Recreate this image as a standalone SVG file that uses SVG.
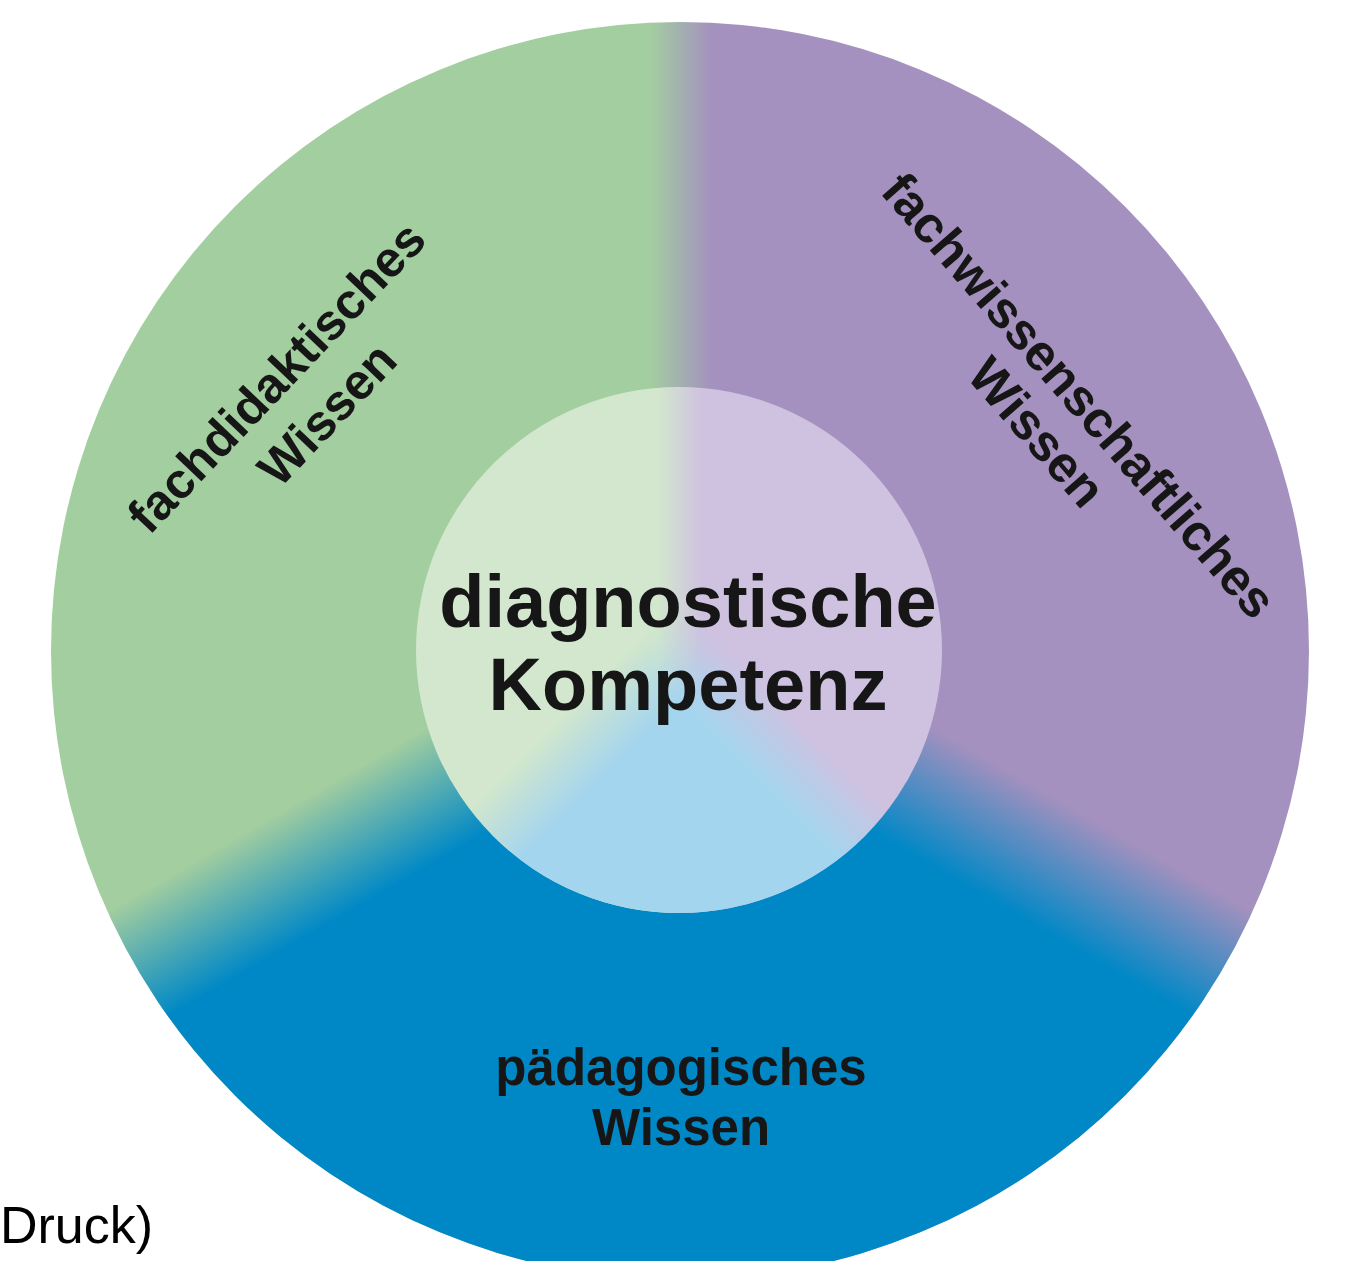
<svg xmlns="http://www.w3.org/2000/svg" width="1349" height="1261" viewBox="0 0 1349 1261">
<style>
.t{font-family:"Liberation Sans",Arial,sans-serif;font-weight:bold;fill:#161616;text-anchor:middle}
.d{font-family:"Liberation Sans",Arial,sans-serif;fill:#000}
</style>
<defs>
<linearGradient id="gpOuter" gradientUnits="userSpaceOnUse" x1="650" y1="0" x2="712" y2="0">
<stop offset="0" stop-color="#a3cea0"/><stop offset="1" stop-color="#a491bf"/>
</linearGradient>
<linearGradient id="gpInner" gradientUnits="userSpaceOnUse" x1="658" y1="0" x2="702" y2="0">
<stop offset="0" stop-color="#d2e7cd"/><stop offset="1" stop-color="#cfc2e0"/>
</linearGradient>
<linearGradient id="oA" gradientUnits="userSpaceOnUse" x1="650" y1="599" x2="710" y2="703">
<stop offset="0" stop-color="#000"/><stop offset="1" stop-color="#fff"/>
</linearGradient>
<linearGradient id="oB" gradientUnits="userSpaceOnUse" x1="710" y1="599" x2="650" y2="703">
<stop offset="0" stop-color="#000"/><stop offset="1" stop-color="#fff"/>
</linearGradient>
<linearGradient id="iA" gradientUnits="userSpaceOnUse" x1="654.3" y1="625.3" x2="703.7" y2="674.7">
<stop offset="0" stop-color="#000"/><stop offset="1" stop-color="#fff"/>
</linearGradient>
<linearGradient id="iB" gradientUnits="userSpaceOnUse" x1="703.7" y1="625.3" x2="654.3" y2="674.7">
<stop offset="0" stop-color="#000"/><stop offset="1" stop-color="#fff"/>
</linearGradient>
<mask id="mOA" maskUnits="userSpaceOnUse" x="0" y="0" width="1349" height="1261"><rect width="1349" height="1261" fill="url(#oA)"/></mask>
<mask id="mOB" maskUnits="userSpaceOnUse" x="0" y="0" width="1349" height="1261"><rect width="1349" height="1261" fill="url(#oB)"/></mask>
<mask id="mIA" maskUnits="userSpaceOnUse" x="0" y="0" width="1349" height="1261"><rect width="1349" height="1261" fill="url(#iA)"/></mask>
<mask id="mIB" maskUnits="userSpaceOnUse" x="0" y="0" width="1349" height="1261"><rect width="1349" height="1261" fill="url(#iB)"/></mask>
</defs>
<rect width="1349" height="1261" fill="#fff"/>
<g id="outer-ring">
<circle cx="680" cy="651" r="629" fill="url(#gpOuter)"/>
<g mask="url(#mOA)"><circle cx="680" cy="651" r="629" fill="#0088c6" mask="url(#mOB)"/></g>
</g>
<g id="inner-circle">
<circle cx="679" cy="650" r="263" fill="url(#gpInner)"/>
<g mask="url(#mIA)"><circle cx="679" cy="650" r="263" fill="#a4d5ee" mask="url(#mIB)"/></g>
</g>
<g id="label-center">
<text class="t" x="688" y="627" font-size="74">diagnostische</text>
<text class="t" x="688" y="710" font-size="74">Kompetenz</text>
</g>
<g id="label-fachdidaktisch" transform="translate(289,389) rotate(-46.5)">
<text class="t" x="0" y="0" font-size="50">fachdidaktisches</text>
<text class="t" x="8" y="62" font-size="50">Wissen</text>
</g>
<g id="label-fachwissenschaftlich" transform="translate(1066,407) rotate(49)">
<text class="t" x="0" y="0" font-size="51">fachwissenschaftliches</text>
<text class="t" x="0" y="56" font-size="51">Wissen</text>
</g>
<g id="label-paedagogisch">
<text class="t" x="681" y="1085" font-size="51">pädagogisches</text>
<text class="t" x="681" y="1145" font-size="51">Wissen</text>
</g>
<text class="d" x="0" y="1243" font-size="52">Druck)</text>
</svg>
